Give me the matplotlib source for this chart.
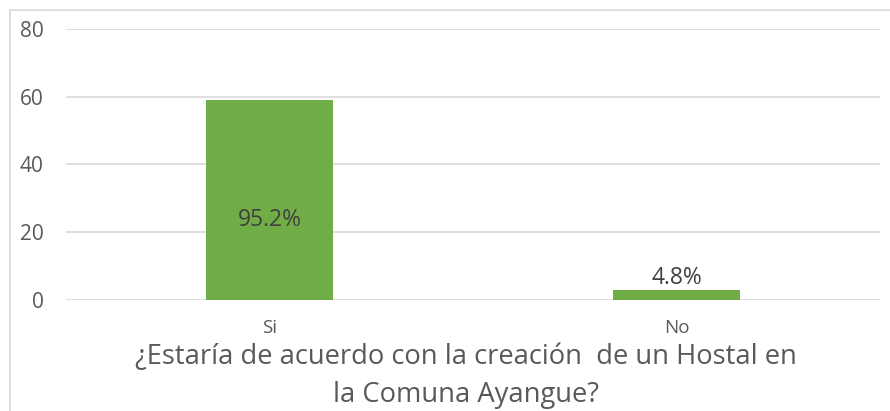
import matplotlib.pyplot as plt
from matplotlib.patches import Rectangle

categories = ['Si', 'No']
counts = [59, 3]
pct_labels = ['95.2%', '4.8%']
yticks = [0, 20, 40, 60, 80]
xlabel_text = '¿Estaría de acuerdo con la creación  de un Hostal en\nla Comuna Ayangue?'

plt.rcParams['font.family'] = ['Open Sans', 'DejaVu Sans']

W, H = 890, 411
fig = plt.figure(figsize=(W / 100, H / 100), dpi=100)
ax = fig.add_axes([66 / W, 1 - 300 / H, (880 - 66) / W, (300 - 29) / H])

x = list(range(len(categories)))
bars = ax.bar(x, counts, width=0.312, color='#70AD47', zorder=3)

ax.set_xlim(-0.5, len(categories) - 0.5)
ax.set_ylim(0, 80)
ax.set_yticks(yticks)
ax.set_xticks(x)
ax.set_xticklabels(categories)
ax.yaxis.grid(True, color='#d9d9d9', linewidth=1.2, zorder=0)
for s in ax.spines.values():
    s.set_visible(False)
ax.tick_params(axis='y', length=0, pad=16, labelsize=15, labelcolor='#595959')
ax.tick_params(axis='x', length=0, pad=14, labelsize=13.5, labelcolor='#595959')

# data labels: inside for big bar, above for small one
for b, v, lab in zip(bars, counts, pct_labels):
    cx = b.get_x() + b.get_width() / 2
    if v > 10:
        ax.text(cx, v * 0.4, lab, ha='center', va='center', fontsize=16.5, color='#404040', zorder=4)
    else:
        ax.text(cx, v, lab, ha='center', va='bottom', fontsize=16.5, color='#404040', zorder=4)

fig.text(466 / W, 1 - 376 / H, xlabel_text, ha='center', va='center', fontsize=19.7,
         color='#595959', linespacing=1.5)

# chart border
fig.patches.append(Rectangle((10 / W, -0.1), 2, 1 - 10 / H + 0.1, transform=fig.transFigure,
                             fill=False, edgecolor='#d9d9d9', linewidth=1.2))

fig.savefig('out.png', dpi=100)
